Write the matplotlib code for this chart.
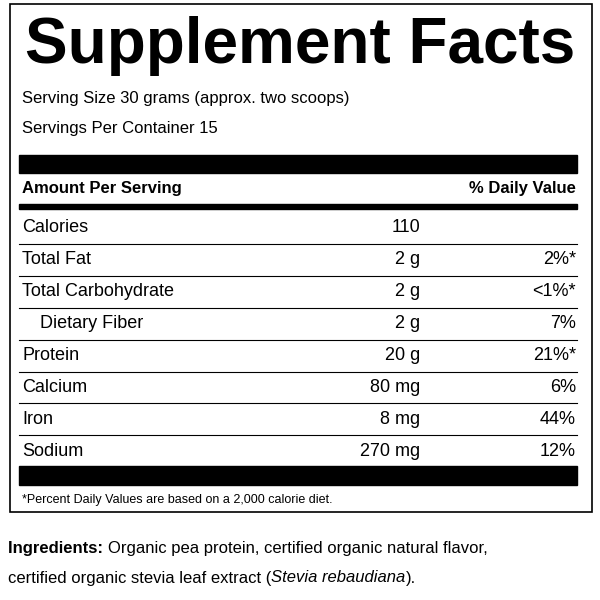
import matplotlib
matplotlib.use("Agg")
import matplotlib.pyplot as plt
from matplotlib.patches import Rectangle

plt.rcParams['font.family'] = ['Liberation Sans', 'DejaVu Sans']

nutrients = ["Calories", "Total Fat", "Total Carbohydrate", "Dietary Fiber",
             "Protein", "Calcium", "Iron", "Sodium"]
amounts = ["110", "2 g", "2 g", "2 g", "20 g", "80 mg", "8 mg", "270 mg"]
daily_values = ["", "2%*", "<1%*", "7%", "21%*", "6%", "44%", "12%"]
indented = ["Dietary Fiber"]

fig = plt.figure(figsize=(6, 6), dpi=100)
ax = fig.add_axes([0, 0, 1, 1])
ax.set_xlim(0, 600)
ax.set_ylim(600, 0)
ax.axis("off")


def text_run(x, y, parts, size):
    # draw consecutive text pieces, each starting where the previous ended
    renderer = fig.canvas.get_renderer()
    for s, kw in parts:
        t = ax.text(x, y, s, fontsize=size, va="center", **kw)
        bb = t.get_window_extent(renderer)
        x += bb.width  # 1 data unit == 1 pixel here


# outer box
ax.add_patch(Rectangle((10, 4), 582, 508, fill=False, lw=1.2, ec="black"))

ax.text(300, 46, "Supplement Facts", fontsize=46, fontweight="bold",
        ha="center", va="center")
ax.text(22, 98, "Serving Size 30 grams (approx. two scoops)", fontsize=12, va="center")
ax.text(22, 129, "Servings Per Container 15", fontsize=12, va="center")

# thick bars
ax.add_patch(Rectangle((19, 155), 558, 18, color="black"))
ax.text(22, 189, "Amount Per Serving", fontsize=12, fontweight="bold", va="center")
ax.text(576, 189, "% Daily Value", fontsize=12, fontweight="bold", va="center", ha="right")
ax.add_patch(Rectangle((19, 204), 558, 5, color="black"))

row_y0, row_h = 228, 31.9
for i, (name, amt, dv) in enumerate(zip(nutrients, amounts, daily_values)):
    y = row_y0 + i * row_h
    x = 40 if name in indented else 22
    ax.text(x, y, name, fontsize=13, va="center")
    ax.text(420, y, amt, fontsize=13, va="center", ha="right")
    ax.text(576, y, dv, fontsize=13, va="center", ha="right")
    if i < len(nutrients) - 1:
        ax.plot([19, 577], [y + row_h / 2] * 2, color="black", lw=0.8)

ax.add_patch(Rectangle((19, 466), 558, 19, color="black"))
ax.text(22, 500, "*Percent Daily Values are based on a 2,000 calorie diet.",
        fontsize=9, va="center")

text_run(8, 549, [("Ingredients: ", {"fontweight": "bold"}),
                  ("Organic pea protein, certified organic natural flavor,", {})], 12)
text_run(8, 578, [("certified organic stevia leaf extract (", {}),
                  ("Stevia rebaudiana", {"style": "italic"}),
                  (").", {})], 12)

fig.savefig("out.png", dpi=100, facecolor="white")
